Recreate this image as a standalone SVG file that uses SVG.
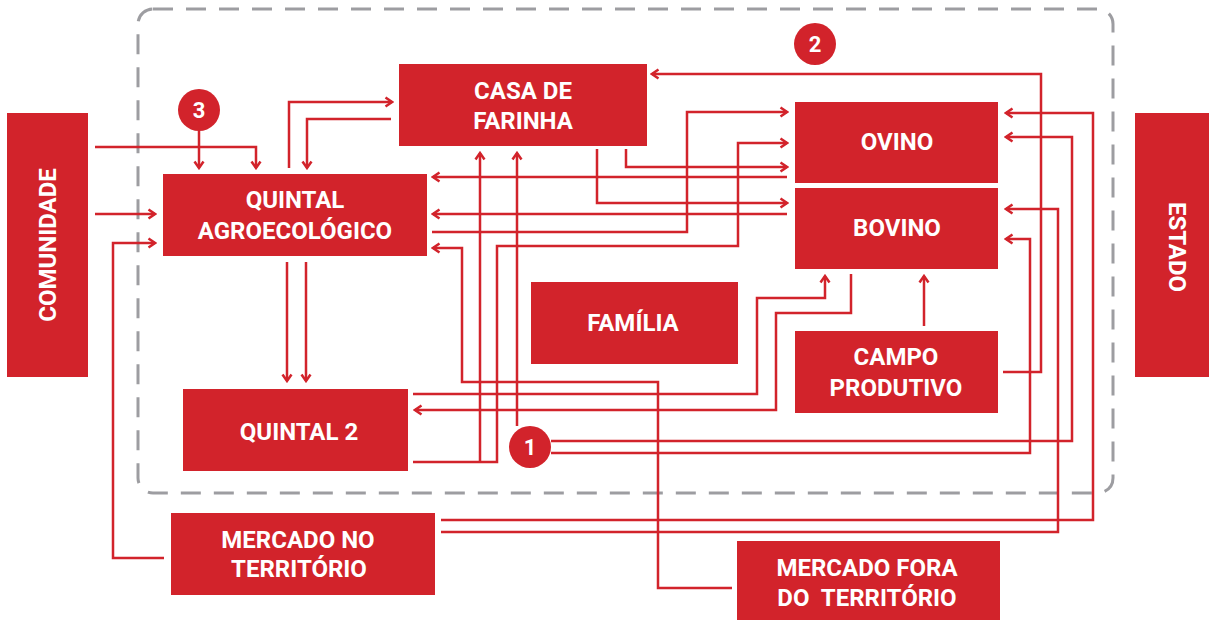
<svg xmlns="http://www.w3.org/2000/svg" width="1209" height="620" viewBox="0 0 1209 620">
<defs>
<style>
.box{fill:#d2232b}
.t{font-family:Roboto,"Liberation Sans",sans-serif;font-weight:700;font-size:24px;fill:#fff;text-anchor:middle}
.n{font-family:Roboto,"Liberation Sans",sans-serif;font-weight:700;font-size:22px;fill:#fff;text-anchor:middle}
.c{fill:none;stroke:#d2232b;stroke-width:2.5}
.a{marker-end:url(#arr)}
</style>
<marker id="arr" viewBox="0 0 12 12" refX="10" refY="6" markerWidth="12" markerHeight="12" orient="auto" markerUnits="userSpaceOnUse">
<path d="M3.5,1.5 L10,6 L3.5,10.5" fill="none" stroke="#d2232b" stroke-width="2.5"/>
</marker>
</defs>
<rect x="0" y="0" width="1209" height="620" fill="#fff"/>
<rect id="boundary" x="138" y="9" width="975" height="484" rx="15" ry="15" fill="none" stroke="#9d9da1" stroke-width="3" stroke-dasharray="20 13"/>

<g id="connectors">
<path class="c a" d="M95,147 H256 V168"/>
<path class="c a" d="M199,131 V168"/>
<path class="c a" d="M95,214 H155"/>
<path class="c a" d="M164,558 H113 V243 H155"/>
<path class="c a" d="M289,168 V102 H392"/>
<path class="c a" d="M391,119 H307 V168"/>
<path class="c a" d="M287,262 V381"/>
<path class="c a" d="M306,262 V381"/>
<path class="c a" d="M1003,372 H1041 V74 H652"/>
<path class="c a" d="M432,232 H687 V112 H787"/>
<path class="c a" d="M413,462 H497 V246 H738 V143 H787"/>
<path class="c a" d="M480,462 V153"/>
<path class="c a" d="M517,426 V153"/>
<path class="c a" d="M626,149 V167 H787"/>
<path class="c a" d="M787,177 H433"/>
<path class="c a" d="M597,149 V203 H787"/>
<path class="c a" d="M787,214 H433"/>
<path class="c a" d="M732,588 H658 V382 H462 V248 H433"/>
<path class="c a" d="M413,394 H757 V298 H825 V276"/>
<path class="c a" d="M851,274 V313 H776 V410 H415"/>
<path class="c a" d="M924,326 V276"/>
<path class="c a" d="M441,520 H1093 V113 H1006"/>
<path class="c a" d="M441,532 H1058 V209 H1006"/>
<path class="c a" d="M551,441 H1072 V137 H1006"/>
<path class="c a" d="M551,453 H1030 V239 H1006"/>
</g>

<g id="comunidade"><rect class="box" x="7" y="113" width="81" height="264"/><text class="t" transform="translate(56,245) rotate(-90)">COMUNIDADE</text></g>
<g id="estado"><rect class="box" x="1135" y="113" width="74" height="264"/><text class="t" transform="translate(1169,247) rotate(90)">ESTADO</text></g>
<g id="quintal-agro"><rect class="box" x="163" y="174" width="264" height="82"/><text class="t" x="295" y="208">QUINTAL</text><text class="t" x="295" y="239">AGROECOLÓGICO</text></g>
<g id="casa"><rect class="box" x="399" y="64" width="248" height="82"/><text class="t" x="523" y="99">CASA DE</text><text class="t" x="523" y="129">FARINHA</text></g>
<g id="ovino"><rect class="box" x="795" y="102" width="203" height="81"/><text class="t" x="897" y="150">OVINO</text></g>
<g id="bovino"><rect class="box" x="795" y="188" width="203" height="81"/><text class="t" x="897" y="236">BOVINO</text></g>
<g id="familia"><rect class="box" x="531" y="282" width="207" height="82"/><text class="t" x="633" y="331">FAMÍLIA</text></g>
<g id="campo"><rect class="box" x="795" y="331" width="203" height="82"/><text class="t" x="896" y="365">CAMPO</text><text class="t" x="896" y="396">PRODUTIVO</text></g>
<g id="quintal2"><rect class="box" x="183" y="389" width="225" height="82"/><text class="t" x="299" y="440">QUINTAL 2</text></g>
<g id="mercado-no"><rect class="box" x="171" y="513" width="264" height="82"/><text class="t" x="298" y="548">MERCADO NO</text><text class="t" x="299" y="577">TERRITÓRIO</text></g>
<g id="mercado-fora"><rect class="box" x="737" y="541" width="263" height="82"/><text class="t" x="867" y="576">MERCADO FORA</text><text class="t" x="867" y="606" xml:space="preserve">DO  TERRITÓRIO</text></g>
<g id="n1"><circle class="box" cx="530" cy="447" r="21"/><text class="n" x="530" y="455">1</text></g>
<g id="n2"><circle class="box" cx="815" cy="44" r="21"/><text class="n" x="815" y="52">2</text></g>
<g id="n3"><circle class="box" cx="199" cy="110" r="21"/><text class="n" x="199" y="118">3</text></g>
</svg>
